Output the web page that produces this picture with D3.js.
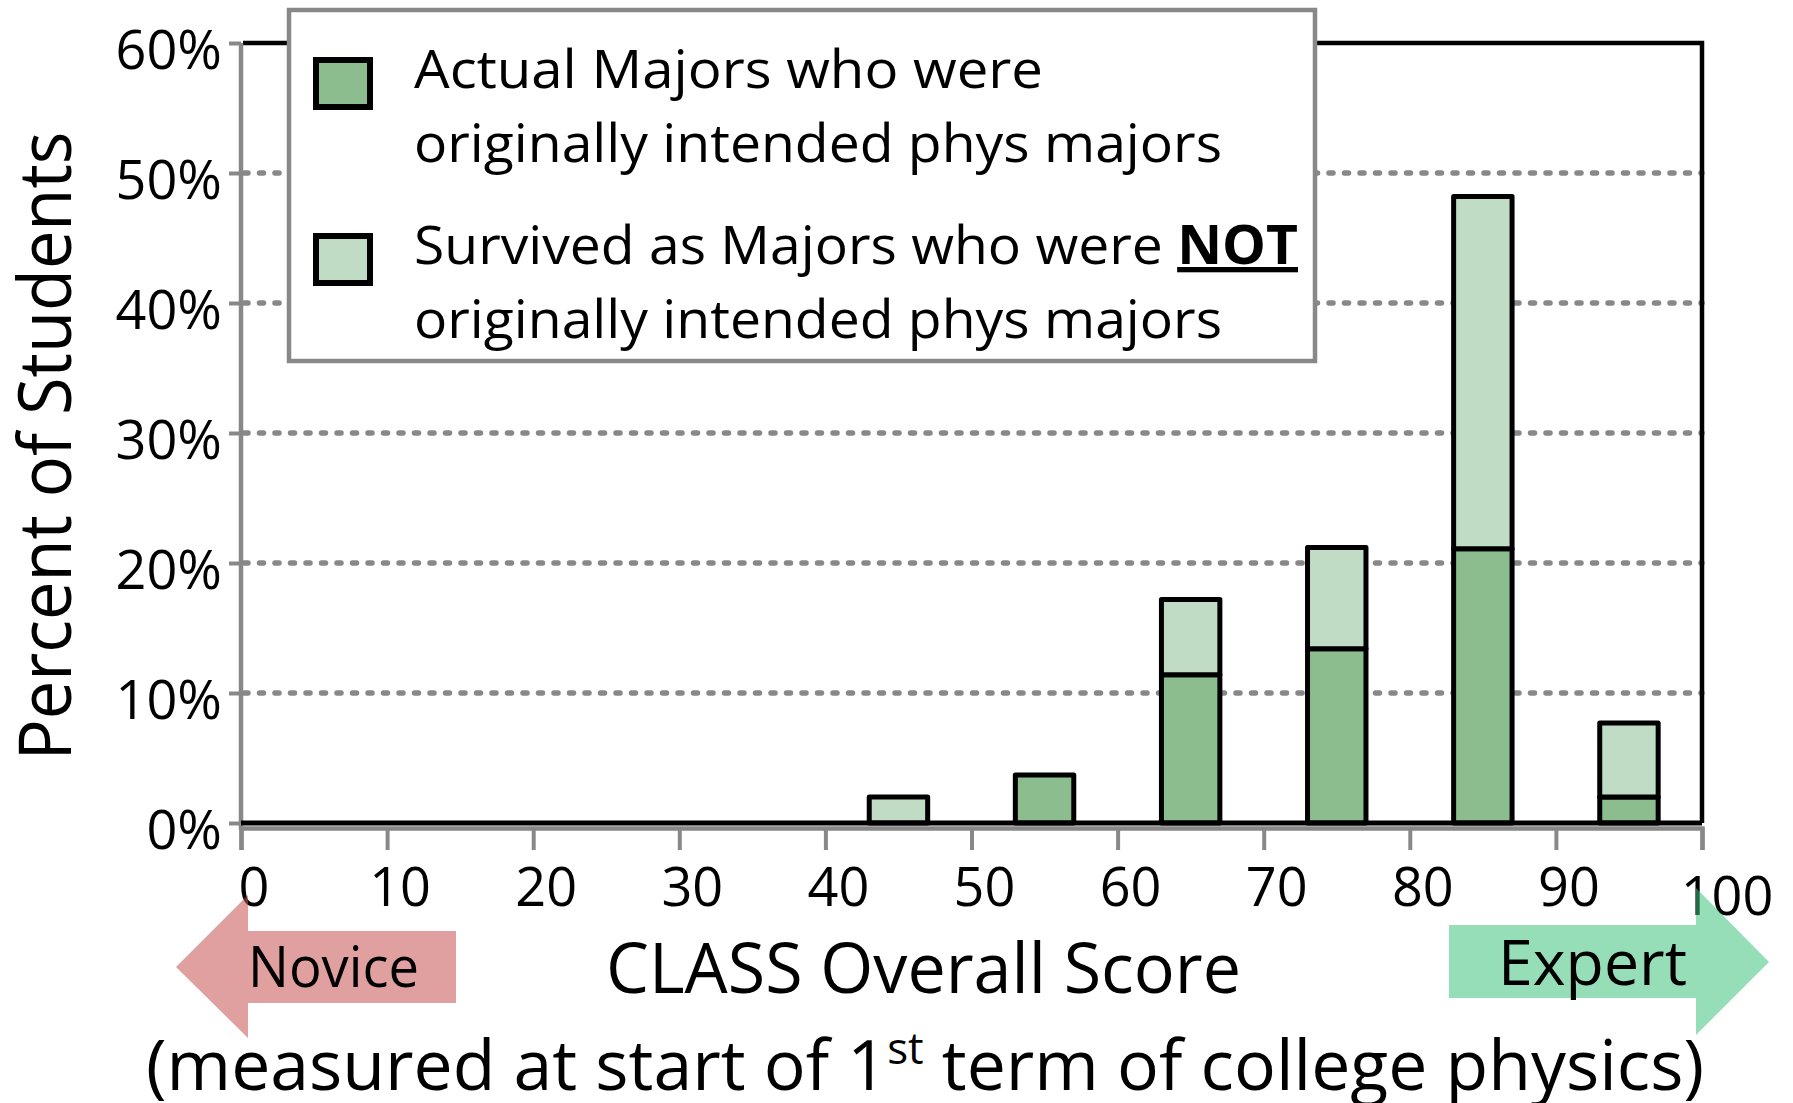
<!DOCTYPE html>
<html>
<head>
<meta charset="utf-8">
<script src="https://cdn.jsdelivr.net/npm/d3@7"></script>
<style>
  body { margin: 0; background: #fff; }
  svg { display: block; font-family: "Open Sans", sans-serif; }
</style>
</head>
<body>
<svg width="1793" height="1103"></svg>
<script>
// bin centres (CLASS score) and stacked percentages
var bins = [45, 55, 65, 75, 85, 95];
var intended = [0, 3.7, 11.4, 13.4, 21.1, 2.0];      // actual majors, originally intended
var notIntended = [2.0, 0, 5.8, 7.8, 27.1, 5.7];     // survived, NOT originally intended
var yTicks = [0, 10, 20, 30, 40, 50, 60];
var xTicks = [0, 10, 20, 30, 40, 50, 60, 70, 80, 90, 100];
var legendLabels = [
    ["Actual Majors who were", "originally intended phys majors"],
    ["Survived as Majors who were ", "originally intended phys majors"]
];

var svg = d3.select("svg");
var darkGreen = "#8bbd8f",
    lightGreen = "#c0dcc5",
    gray = "#888888";

var x = d3.scaleLinear().domain([0, 100]).range([241, 1702]);
var y = d3.scaleLinear().domain([0, 60]).range([823, 43]);

// dashed gridlines
svg.append("g").selectAll("line")
    .data(yTicks.filter(function (d) { return d > 0 && d < 60; }))
    .enter().append("line")
    .attr("x1", x(0) + 3).attr("x2", x(100))
    .attr("y1", function (d) { return y(d); })
    .attr("y2", function (d) { return y(d); })
    .attr("stroke", gray)
    .attr("stroke-width", 5.5)
    .attr("stroke-linecap", "round")
    .attr("stroke-dasharray", "4,11.5");

// frame: top and right in black
svg.append("path")
    .attr("d", "M" + (x(0) + 2) + "," + y(60) + "H" + x(100) + "V" + y(0))
    .attr("fill", "none")
    .attr("stroke", "#000")
    .attr("stroke-width", 4.5);

// stacked bars
var data = bins.map(function (b, i) {
    return { bin: b, a: intended[i], b: notIntended[i] };
});
var stack = d3.stack().keys(["a", "b"])(data);
var fills = [darkGreen, lightGreen];

svg.append("g").selectAll("g")
    .data(stack)
    .enter().append("g")
    .attr("fill", function (d, i) { return fills[i]; })
    .selectAll("rect")
    .data(function (d) { return d.filter(function (s) { return s[1] - s[0] > 0; }); })
    .enter().append("rect")
    .attr("x", function (s) { return x(s.data.bin - 2); })
    .attr("width", function (s) { return x(s.data.bin + 2) - x(s.data.bin - 2); })
    .attr("y", function (s) { return y(s[1]); })
    .attr("height", function (s) { return y(s[0]) - y(s[1]); })
    .attr("stroke", "#000")
    .attr("stroke-width", 5)
    .attr("stroke-linejoin", "round");

// gray axes
var yAxis = svg.append("g")
    .attr("transform", "translate(" + x(0) + ",0)")
    .call(d3.axisLeft(y).tickValues(yTicks).tickSize(12).tickFormat(""));
var xAxis = svg.append("g")
    .attr("transform", "translate(0," + (y(0) + 5) + ")")
    .call(d3.axisBottom(x).tickValues(xTicks).tickSize(22).tickFormat(""));
[yAxis, xAxis].forEach(function (a) {
    a.select(".domain").attr("stroke", gray).attr("stroke-width", 4.5);
    a.selectAll(".tick line").attr("stroke", gray).attr("stroke-width", 4);
});
yAxis.select(".domain").attr("d", "M0," + y(60) + "V" + (y(0) + 7));

// black zero line
svg.append("line")
    .attr("x1", x(0)).attr("x2", x(100))
    .attr("y1", y(0)).attr("y2", y(0))
    .attr("stroke", "#000").attr("stroke-width", 5);

// tick labels
svg.append("g").selectAll("text")
    .data(yTicks)
    .enter().append("text")
    .attr("x", 222)
    .attr("y", function (d) { return y(d) + 26; })
    .attr("text-anchor", "end")
    .attr("font-size", 54)
    .text(function (d) { return d + "%"; });

svg.append("g").selectAll("text")
    .data(xTicks)
    .enter().append("text")
    .attr("x", function (d) { return x(d) + (d === 100 ? 25 : 13); })
    .attr("y", function (d) { return d === 100 ? 915 : 906; })
    .attr("text-anchor", "middle")
    .attr("font-size", 54)
    .text(function (d) { return d; });

// novice / expert arrows (translucent, over tick labels)
svg.append("path")
    .attr("d", "M176,967L248,895V931H456V1003H248V1038Z")
    .attr("fill", "#c75252").attr("fill-opacity", 0.55);
svg.append("path")
    .attr("d", "M1769,962L1696,888V925H1449V998H1696V1035Z")
    .attr("fill", "#40c37e").attr("fill-opacity", 0.55);

svg.append("text")
    .attr("x", 248).attr("y", 987)
    .attr("font-size", 56)
    .attr("textLength", 171).attr("lengthAdjust", "spacingAndGlyphs")
    .text("Novice");
svg.append("text")
    .attr("x", 1498).attr("y", 985)
    .attr("font-size", 63)
    .attr("textLength", 189).attr("lengthAdjust", "spacingAndGlyphs")
    .text("Expert");

// axis titles
svg.append("text")
    .attr("transform", "translate(71,446) rotate(-90)")
    .attr("text-anchor", "middle")
    .attr("font-size", 74)
    .attr("textLength", 629).attr("lengthAdjust", "spacingAndGlyphs")
    .text("Percent of Students");

svg.append("text")
    .attr("x", 606).attr("y", 993)
    .attr("font-size", 70)
    .attr("textLength", 635).attr("lengthAdjust", "spacingAndGlyphs")
    .text("CLASS Overall Score");

var sub = svg.append("text")
    .attr("x", 146).attr("y", 1090)
    .attr("font-size", 70)
    .attr("textLength", 1558).attr("lengthAdjust", "spacingAndGlyphs");
sub.append("tspan").text("(measured at start of 1");
sub.append("tspan").attr("dy", -26).attr("font-size", 44).text("st");
sub.append("tspan").attr("dy", 26).text(" term of college physics)");

// legend
var legend = svg.append("g");
legend.append("rect")
    .attr("x", 289).attr("y", 10)
    .attr("width", 1026).attr("height", 351)
    .attr("fill", "#fff")
    .attr("stroke", gray).attr("stroke-width", 4.5);

var rows = legend.selectAll("g.row")
    .data(legendLabels)
    .enter().append("g")
    .attr("class", "row")
    .attr("transform", function (d, i) { return "translate(0," + (i * 176) + ")"; });

rows.append("rect")
    .attr("x", 316).attr("y", 60)
    .attr("width", 54).attr("height", 47)
    .attr("fill", function (d, i) { return fills[i]; })
    .attr("stroke", "#000").attr("stroke-width", 6);

rows.append("text")
    .attr("x", 414).attr("y", 88)
    .attr("font-size", 53)
    .attr("textLength", function (d, i) { return i === 0 ? 629 : 884; })
    .attr("lengthAdjust", "spacingAndGlyphs")
    .each(function (d, i) {
        var t = d3.select(this);
        t.append("tspan").text(d[0]);
        if (i === 1) {
            t.append("tspan")
                .attr("font-weight", "bold")
                .attr("text-decoration", "underline")
                .text("NOT");
        }
    });

rows.append("text")
    .attr("x", 414).attr("y", 162)
    .attr("font-size", 53)
    .attr("textLength", 808).attr("lengthAdjust", "spacingAndGlyphs")
    .text(function (d) { return d[1]; });
</script>
</body>
</html>
